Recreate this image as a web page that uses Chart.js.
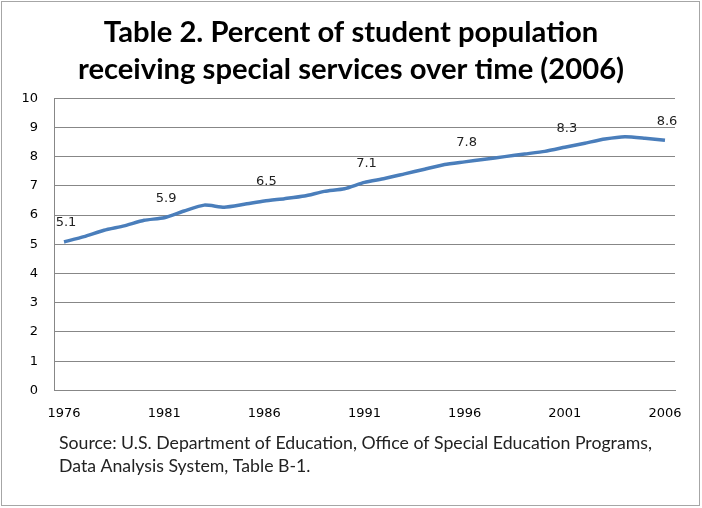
<!DOCTYPE html>
<html>
<head>
<meta charset="utf-8">
<script src="https://cdn.jsdelivr.net/npm/chart.js@4"></script>
<style>
html, body { margin: 0; padding: 0; background: #fff; }
#wrap { position: relative; width: 702px; height: 508px; }
#frame { position: absolute; left: 1px; top: 1px; width: 697px; height: 503px; border: 1px solid #a6a6a6; }
canvas { position: absolute; left: 0; top: 0; }
</style>
</head>
<body>
<div id="wrap">
<div id="frame"></div>
<canvas id="lineChart" width="702" height="508"></canvas>
</div>
<script>
// data
var years = [1976,1977,1978,1979,1980,1981,1982,1983,1984,1985,1986,1987,1988,1989,1990,
             1991,1992,1993,1994,1995,1996,1997,1998,1999,2000,2001,2002,2003,2004,2005,2006];
var percent = [5.08,5.26,5.48,5.63,5.82,5.91,6.14,6.34,6.27,6.37,6.48,6.56,6.65,6.81,6.90,
               7.12,7.25,7.41,7.57,7.73,7.82,7.91,8.00,8.09,8.18,8.32,8.46,8.60,8.68,8.63,8.56];
var labelledYears = [1976,1981,1986,1991,1996,2001,2006];
var titleLines = ["Table 2. Percent of student population", "receiving special services over time (2006)"];
var sourceLines = ["Source: U.S. Department of Education, Office of Special Education Programs,",
                   "Data Analysis System, Table B-1."];

// value labels above the labelled years
var valueLabels = {
  id: 'valueLabels',
  afterDatasetsDraw: function(chart) {
    var ctx = chart.ctx;
    var meta = chart.getDatasetMeta(0);
    ctx.save();
    ctx.font = '13px "DejaVu Sans"';
    ctx.fillStyle = '#222';
    ctx.textAlign = 'center';
    ctx.textBaseline = 'middle';
    meta.data.forEach(function(pt, i) {
      if (labelledYears.indexOf(years[i]) < 0) return;
      ctx.fillText(percent[i].toFixed(1), pt.x + 2, pt.y - 19);
    });
    ctx.restore();
  }
};

// source note under the axis
var sourceNote = {
  id: 'sourceNote',
  afterDraw: function(chart) {
    var ctx = chart.ctx;
    ctx.save();
    ctx.font = '17.7px Lato';
    ctx.fillStyle = '#222';
    ctx.textAlign = 'left';
    ctx.textBaseline = 'middle';
    ctx.fillText(sourceLines[0], 59, 443);
    ctx.fillText(sourceLines[1], 59, 466);
    ctx.restore();
  }
};

var ctxL = document.getElementById("lineChart").getContext('2d');
var myLineChart = new Chart(ctxL, {
type: 'line',
data: {
labels: years,
datasets: [{
label: "Percent",
data: percent,
borderColor: '#4a7ebb',
borderWidth: 3.5,
pointRadius: 0,
tension: 0.2,
fill: false
}]
},
options: {
responsive: false,
animation: false,
layout: { padding: { left: 0, right: 0, top: 0, bottom: 72 } },
plugins: {
legend: { display: false },
tooltip: { enabled: false },
title: {
display: true,
text: titleLines,
color: '#000',
font: { family: 'Lato', size: 29.2, weight: 'bold', lineHeight: 1.27 },
padding: { top: 14, bottom: 10 }
}
},
scales: {
x: {
offset: true,
grid: { display: false, drawTicks: false },
border: { display: true, color: '#878787', width: 1 },
ticks: {
autoSkip: false,
maxRotation: 0,
padding: 15,
color: '#000',
font: { family: 'DejaVu Sans', size: 13 },
callback: function(v, i) { return labelledYears.indexOf(years[i]) >= 0 ? years[i] : ''; }
}
},
y: {
min: 0,
max: 10,
afterFit: function(scale) { scale.width = 54; },
grid: { color: '#878787', lineWidth: 1, drawTicks: false },
border: { display: true, color: '#878787', width: 1 },
ticks: {
stepSize: 1,
padding: 16,
color: '#000',
font: { family: 'DejaVu Sans', size: 13 }
}
},
// empty right margin so the title stays centred on the page
yRight: {
position: 'right',
min: 0,
max: 10,
afterFit: function(scale) { scale.width = 27; },
grid: { display: false, drawTicks: false },
border: { display: false },
ticks: { display: false }
}
}
},
plugins: [valueLabels, sourceNote]
});
</script>
</body>
</html>
